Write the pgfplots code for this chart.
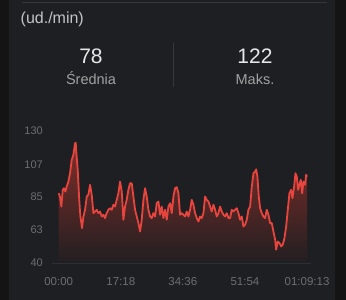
\documentclass[border=0pt]{standalone}
\usepackage{fontspec}
\setmainfont{Liberation Sans}
\usepackage{pgfplots}
\pgfplotsset{compat=1.18}
\definecolor{outerbg}{HTML}{141414}
\definecolor{cardbg}{HTML}{1E1F22}
\definecolor{sepline}{HTML}{36373B}
\definecolor{hrline}{HTML}{E8453E}
\definecolor{filltop}{RGB}{130,46,41}
\definecolor{fillbot}{RGB}{36,31,33}
\definecolor{ticklbl}{HTML}{6E6E70}
\definecolor{numtxt}{HTML}{E8E8E8}
\definecolor{lbltxt}{HTML}{A2A2A4}
\definecolor{unittxt}{HTML}{C4C4C6}
\definecolor{baseln}{HTML}{2E2F33}
\begin{document}
\begin{tikzpicture}
\fill[outerbg] (0bp,0bp) rectangle (346bp,300bp);
\fill[cardbg] (9bp,0bp) rectangle (335bp,300bp);
\draw[sepline, line width=1.5bp] (22bp,297.5bp) -- (327bp,297.5bp);
\draw[sepline, line width=1bp] (173bp,213bp) -- (173bp,257bp);
\node[anchor=base west, inner sep=0pt, text=unittxt, font=\fontsize{16bp}{18bp}\selectfont] at (20.5bp,276bp) {(ud./min)};
\node[anchor=base, inner sep=0pt, text=numtxt, font=\fontsize{21bp}{24bp}\selectfont] at (91bp,236bp) {78};
\node[anchor=base, inner sep=0pt, text=lbltxt, font=\fontsize{14.5bp}{16bp}\selectfont] at (91bp,215bp) {Średnia};
\node[anchor=base, inner sep=0pt, text=numtxt, font=\fontsize{21bp}{24bp}\selectfont] at (255bp,236bp) {122};
\node[anchor=base, inner sep=0pt, text=lbltxt, font=\fontsize{14.5bp}{16bp}\selectfont] at (255bp,215bp) {Maks.};
\begin{axis}[
  at={(52bp,37bp)}, anchor=south west,
  scale only axis, width=259bp, height=132bp,
  xmin=-1.87, xmax=70.32, ymin=40, ymax=130,
  axis x line*=bottom, axis y line*=left,
  x axis line style={baseln, line width=1bp, -},
  y axis line style={draw=none},
  major tick length=0pt,
  ytick={40,63,85,107,130},
  xtick={0,17.3,34.6,51.9,69.217},
  xticklabels={00:00,17:18,34:36,51:54,01:09:13},
  /pgf/number format/assume math mode=true,
  yticklabel style={anchor=east, inner sep=0pt, xshift=-9bp, text=ticklbl, font=\fontsize{11bp}{13bp}\selectfont},
  xticklabel style={anchor=center, inner sep=0pt, yshift=-18.5bp, text=ticklbl, font=\fontsize{11.5bp}{13bp}\selectfont},
  clip=false,
]
\addplot[draw=none, top color=filltop, bottom color=fillbot] coordinates {
(0,41.5)
(0.00,87.6) (0.37,84.9) (0.74,78.5) (1.12,89.9) (1.49,91.0) (1.86,88.7) (2.23,92.1) (2.70,95.5)
(3.16,101.2) (3.62,110.3) (4.09,113.7) (4.55,121.6) (4.74,122.0) (4.93,114.8) (5.30,103.5) (5.67,85.3)
(6.04,71.7) (6.51,63.8) (6.88,71.7) (7.34,76.3) (7.81,85.3) (8.27,86.5) (8.74,93.3) (9.20,86.5)
(9.67,74.0) (10.13,75.1) (10.60,76.3) (11.06,74.0) (11.52,75.1) (11.99,71.7) (12.45,72.9) (12.92,70.6)
(13.38,74.0) (13.85,76.3) (14.31,77.4) (14.78,76.3) (15.24,79.7) (15.71,78.5) (16.17,83.1) (16.64,87.6)
(17.10,95.5) (17.57,88.7) (18.03,69.5) (18.49,78.5) (18.96,83.1) (19.42,89.9) (19.89,94.4) (20.35,94.4)
(20.82,85.3) (21.28,76.3) (21.75,71.7) (22.21,67.2) (22.68,61.5) (23.14,69.5) (23.61,83.1) (24.07,91.0)
(24.54,85.3) (25.00,76.3) (25.47,71.7) (25.93,70.6) (26.39,74.0) (26.86,71.7) (27.32,80.8) (27.79,81.9)
(28.25,72.9) (28.72,78.5) (29.18,70.6) (29.65,76.3) (30.11,69.5) (30.58,78.5) (31.04,80.8) (31.51,74.0)
(31.97,85.3) (32.44,91.0) (32.90,91.7) (33.36,87.6) (33.83,72.9) (34.29,74.0) (34.76,72.9) (35.22,71.7)
(35.69,75.1) (36.15,71.7) (36.62,76.3) (37.08,83.1) (37.55,79.7) (38.01,74.0) (38.48,70.6) (38.94,68.3)
(39.41,71.7) (39.87,70.6) (40.34,74.0) (40.80,85.3) (41.26,83.1) (41.73,81.9) (42.19,78.5) (42.66,75.1)
(43.12,79.7) (43.59,76.3) (44.05,71.7) (44.52,74.0) (44.98,78.5) (45.45,75.1) (45.91,72.9) (46.38,71.7)
(46.84,74.0) (47.31,70.6) (47.77,70.6) (48.23,76.3) (48.70,75.1) (49.16,76.3) (49.63,77.4) (50.09,74.0)
(50.56,69.5) (51.02,71.7) (51.49,64.9) (51.95,66.1) (52.42,69.5) (52.88,76.3) (53.35,78.5) (53.81,92.1)
(54.28,101.2) (54.74,102.3) (55.02,103.9) (55.39,98.9) (55.76,85.3) (56.14,77.4) (56.60,74.0) (57.07,71.7)
(57.53,70.6) (57.99,76.3) (58.46,72.9) (58.92,67.2) (59.39,67.2) (59.85,61.5) (60.32,55.9) (60.60,49.1)
(61.06,54.7) (61.53,53.6) (61.99,51.3) (62.45,52.5) (62.92,57.0) (63.39,64.9) (63.85,76.3) (64.31,87.6)
(64.78,89.9) (65.15,84.2) (65.62,92.1) (65.99,101.2) (66.36,98.9) (66.73,89.9) (67.10,93.3) (67.48,96.7)
(67.85,87.6) (68.22,95.5) (68.68,93.3) (68.96,100.1) (69.22,98.9)
(69.22,41.5)
} -- cycle;
\addplot[hrline, line width=1.8bp, line join=round] coordinates {
(0.00,87.6) (0.37,84.9) (0.74,78.5) (1.12,89.9) (1.49,91.0) (1.86,88.7) (2.23,92.1) (2.70,95.5)
(3.16,101.2) (3.62,110.3) (4.09,113.7) (4.55,121.6) (4.74,122.0) (4.93,114.8) (5.30,103.5) (5.67,85.3)
(6.04,71.7) (6.51,63.8) (6.88,71.7) (7.34,76.3) (7.81,85.3) (8.27,86.5) (8.74,93.3) (9.20,86.5)
(9.67,74.0) (10.13,75.1) (10.60,76.3) (11.06,74.0) (11.52,75.1) (11.99,71.7) (12.45,72.9) (12.92,70.6)
(13.38,74.0) (13.85,76.3) (14.31,77.4) (14.78,76.3) (15.24,79.7) (15.71,78.5) (16.17,83.1) (16.64,87.6)
(17.10,95.5) (17.57,88.7) (18.03,69.5) (18.49,78.5) (18.96,83.1) (19.42,89.9) (19.89,94.4) (20.35,94.4)
(20.82,85.3) (21.28,76.3) (21.75,71.7) (22.21,67.2) (22.68,61.5) (23.14,69.5) (23.61,83.1) (24.07,91.0)
(24.54,85.3) (25.00,76.3) (25.47,71.7) (25.93,70.6) (26.39,74.0) (26.86,71.7) (27.32,80.8) (27.79,81.9)
(28.25,72.9) (28.72,78.5) (29.18,70.6) (29.65,76.3) (30.11,69.5) (30.58,78.5) (31.04,80.8) (31.51,74.0)
(31.97,85.3) (32.44,91.0) (32.90,91.7) (33.36,87.6) (33.83,72.9) (34.29,74.0) (34.76,72.9) (35.22,71.7)
(35.69,75.1) (36.15,71.7) (36.62,76.3) (37.08,83.1) (37.55,79.7) (38.01,74.0) (38.48,70.6) (38.94,68.3)
(39.41,71.7) (39.87,70.6) (40.34,74.0) (40.80,85.3) (41.26,83.1) (41.73,81.9) (42.19,78.5) (42.66,75.1)
(43.12,79.7) (43.59,76.3) (44.05,71.7) (44.52,74.0) (44.98,78.5) (45.45,75.1) (45.91,72.9) (46.38,71.7)
(46.84,74.0) (47.31,70.6) (47.77,70.6) (48.23,76.3) (48.70,75.1) (49.16,76.3) (49.63,77.4) (50.09,74.0)
(50.56,69.5) (51.02,71.7) (51.49,64.9) (51.95,66.1) (52.42,69.5) (52.88,76.3) (53.35,78.5) (53.81,92.1)
(54.28,101.2) (54.74,102.3) (55.02,103.9) (55.39,98.9) (55.76,85.3) (56.14,77.4) (56.60,74.0) (57.07,71.7)
(57.53,70.6) (57.99,76.3) (58.46,72.9) (58.92,67.2) (59.39,67.2) (59.85,61.5) (60.32,55.9) (60.60,49.1)
(61.06,54.7) (61.53,53.6) (61.99,51.3) (62.45,52.5) (62.92,57.0) (63.39,64.9) (63.85,76.3) (64.31,87.6)
(64.78,89.9) (65.15,84.2) (65.62,92.1) (65.99,101.2) (66.36,98.9) (66.73,89.9) (67.10,93.3) (67.48,96.7)
(67.85,87.6) (68.22,95.5) (68.68,93.3) (68.96,100.1) (69.22,98.9)
};
\end{axis}
\pgfresetboundingbox
\useasboundingbox (0bp,0bp) rectangle (346bp,300bp);
\end{tikzpicture}
\end{document}
